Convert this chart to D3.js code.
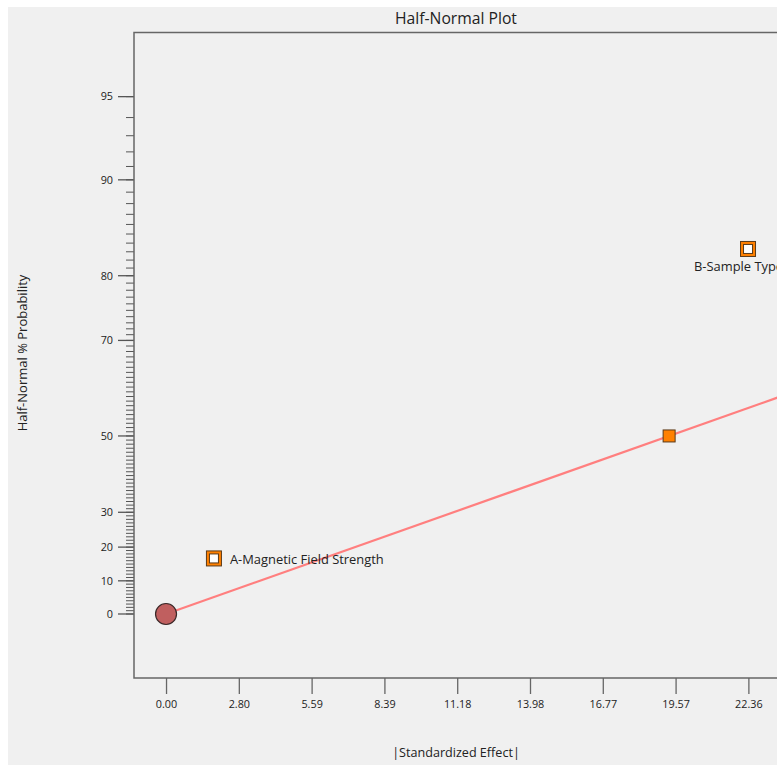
<!DOCTYPE html>
<html>
<head>
<meta charset="utf-8">
<script src="https://cdn.jsdelivr.net/npm/d3@7"></script>
<style>
  html, body { margin: 0; padding: 0; background: #ffffff; }
  svg { display: block; }
  text { font-family: "Open Sans", "Noto Sans", sans-serif; fill: #222; }
</style>
</head>
<body>
<script>
// Effect estimates (absolute standardized effects) and their half-normal probabilities
const termNames   = ["A-Magnetic Field Strength", "AB", "B-Sample Type"];
const termEffects = [1.84, 19.32, 22.35];
const termProbs   = [16.67, 50, 83.33];
const termSelected = [true, false, true];

// Origin point of the plot
const originEffect = [0];
const originProb = [0];

// Axis ticks
const xTickValues = [0, 2.7955, 5.591, 8.3865, 11.182, 13.9775, 16.773, 19.5685, 22.364, 25.1595, 27.955];
const yMajorTicks = [0, 10, 20, 30, 50, 70, 80, 90, 95];
const yMinorTicks = d3.range(0, 96);

const W = 777, H = 765;

// Inverse standard normal CDF (Acklam's rational approximation)
function normInv(p) {
  const a = [-3.969683028665376e+01, 2.209460984245205e+02, -2.759285104469687e+02,
             1.383577518672690e+02, -3.066479806614716e+01, 2.506628277459239e+00];
  const b = [-5.447609879822406e+01, 1.615858368580409e+02, -1.556989798598866e+02,
             6.680131188771972e+01, -1.328068155288572e+01];
  const c = [-7.784894002430293e-03, -3.223964580411365e-01, -2.400758277161838e+00,
             -2.549732539343734e+00, 4.374664141464968e+00, 2.938163982698783e+00];
  const d = [7.784695709041462e-03, 3.224671290700398e-01, 2.445134137142996e+00,
             3.754408661907416e+00];
  const pl = 0.02425, ph = 1 - pl;
  let q, r;
  if (p < pl) {
    q = Math.sqrt(-2 * Math.log(p));
    return (((((c[0]*q+c[1])*q+c[2])*q+c[3])*q+c[4])*q+c[5]) /
           ((((d[0]*q+d[1])*q+d[2])*q+d[3])*q+1);
  } else if (p <= ph) {
    q = p - 0.5; r = q * q;
    return (((((a[0]*r+a[1])*r+a[2])*r+a[3])*r+a[4])*r+a[5])*q /
           (((((b[0]*r+b[1])*r+b[2])*r+b[3])*r+b[4])*r+1);
  } else {
    q = Math.sqrt(-2 * Math.log(1 - p));
    return -(((((c[0]*q+c[1])*q+c[2])*q+c[3])*q+c[4])*q+c[5]) /
            ((((d[0]*q+d[1])*q+d[2])*q+d[3])*q+1);
  }
}
// Half-normal quantile for a percentage
const halfZ = pct => pct <= 0 ? 0 : normInv(0.5 + pct / 200);

const svg = d3.select("body").append("svg").attr("width", W).attr("height", H);

// Panel background
svg.append("rect").attr("x", 8).attr("y", 7).attr("width", W).attr("height", H)
  .attr("fill", "#f0f0f0");

const plot = { left: 134, top: 32.5, right: 926, bottom: 678 };

const x = d3.scaleLinear().domain([-1.23, 29.185]).range([plot.left, plot.right]);
const yz = d3.scaleLinear().domain([-0.2425, 2.203]).range([plot.bottom, plot.top]);
const y = pct => yz(halfZ(pct));

// Title
svg.append("text").attr("x", 456).attr("y", 24).attr("text-anchor", "middle")
  .style("font-size", "15.7px").text("Half-Normal Plot");

// X axis (only the ticks that fall inside the visible panel)
const visibleXTicks = xTickValues.filter(v => x(v) + 16 < W);
const xAxis = d3.axisBottom(x).tickValues(visibleXTicks).tickFormat(d3.format(".2f"))
  .tickSizeInner(16).tickSizeOuter(0).tickPadding(6);
const gx = svg.append("g").attr("transform", `translate(0,${plot.bottom})`).call(xAxis);
gx.select(".domain").remove();
gx.selectAll(".tick line").attr("stroke", "#666").attr("stroke-width", 1.3);
gx.selectAll(".tick text").style("font-size", "10.8px").attr("fill", "#333")
  .style("font-family", "'Open Sans', sans-serif");

// Y axis: minor ticks at every percent, labelled majors
const gy = svg.append("g");
gy.selectAll("line.minor").data(yMinorTicks).join("line").attr("class", "minor")
  .attr("x1", plot.left - 8).attr("x2", plot.left)
  .attr("y1", d => y(d)).attr("y2", d => y(d))
  .attr("stroke", "#555").attr("stroke-width", 1);
gy.selectAll("line.major").data(yMajorTicks).join("line").attr("class", "major")
  .attr("x1", plot.left - 16).attr("x2", plot.left)
  .attr("y1", d => y(d)).attr("y2", d => y(d))
  .attr("stroke", "#555").attr("stroke-width", 1.3);
gy.selectAll("text").data(yMajorTicks).join("text")
  .attr("x", plot.left - 21).attr("y", d => y(d)).attr("dy", "0.35em")
  .attr("text-anchor", "end").style("font-size", "10.8px").attr("fill", "#333")
  .text(d => d);

// Plot frame
svg.append("rect").attr("x", plot.left).attr("y", plot.top)
  .attr("width", plot.right - plot.left).attr("height", plot.bottom - plot.top)
  .attr("fill", "none").attr("stroke", "#666").attr("stroke-width", 1.5);

// Axis titles
svg.append("text").attr("x", 456).attr("y", 757).attr("text-anchor", "middle")
  .style("font-size", "12.6px").text("|Standardized Effect|");
svg.append("text").attr("transform", "translate(27,353) rotate(-90)")
  .attr("text-anchor", "middle").style("font-size", "13px")
  .text("Half-Normal % Probability");

// Reference line through the origin and the unselected effect
const refIdx = termSelected.indexOf(false);
const slope = halfZ(termProbs[refIdx]) / termEffects[refIdx];
const lineX = [0, x.domain()[1]];
svg.append("line")
  .attr("x1", x(lineX[0])).attr("y1", yz(lineX[0] * slope))
  .attr("x2", x(lineX[1])).attr("y2", yz(lineX[1] * slope))
  .attr("stroke", "#ff7f7f").attr("stroke-width", 2.2);

// Origin marker
svg.selectAll("circle.origin").data(originEffect).join("circle").attr("class", "origin")
  .attr("cx", d => x(d)).attr("cy", (d, i) => y(originProb[i])).attr("r", 10.5)
  .attr("fill", "#c05f5f").attr("stroke", "#3a2828").attr("stroke-width", 1.2);

// Effect markers
const pts = termEffects.map((e, i) => ({ e, p: termProbs[i], name: termNames[i], sel: termSelected[i] }));
const g = svg.selectAll("g.pt").data(pts).join("g").attr("class", "pt")
  .attr("transform", d => `translate(${x(d.e)},${y(d.p)})`);
g.append("rect")
  .attr("x", d => d.sel ? -7.5 : -6).attr("y", d => d.sel ? -7.5 : -6)
  .attr("width", d => d.sel ? 15 : 12).attr("height", d => d.sel ? 15 : 12)
  .attr("fill", "#ff8000").attr("stroke", "#5a3a1a").attr("stroke-width", 1);
g.filter(d => d.sel).append("rect")
  .attr("x", -4.5).attr("y", -4.5).attr("width", 9).attr("height", 9)
  .attr("fill", "#ffffff").attr("stroke", "#5a3a1a").attr("stroke-width", 1);

// Labels for selected effects
const labA = pts[0], labB = pts[2];
svg.append("text").attr("x", x(labA.e) + 16).attr("y", y(labA.p) + 1.5).attr("dy", "0.35em")
  .style("font-size", "12.9px").text(labA.name);
svg.append("text").attr("x", x(labB.e) - 54).attr("y", y(labB.p) + 18).attr("dy", "0.35em")
  .attr("text-anchor", "start").style("font-size", "12.9px").text(labB.name);
</script>
</body>
</html>
